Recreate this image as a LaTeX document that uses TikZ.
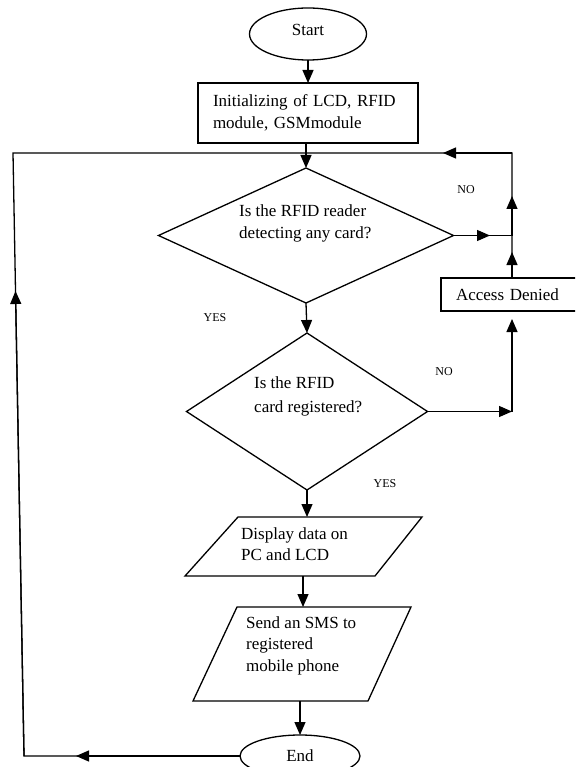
\documentclass[tikz,border=0pt]{standalone}
\usepackage{fontspec}
\setmainfont{Liberation Serif}
\usetikzlibrary{shapes.geometric,arrows.meta}
\begin{document}
\begin{tikzpicture}[x=1pt,y=-1pt,
  ln/.style={line width=1.3pt},
  arr/.style={ln,-{Triangle[length=13pt,width=11pt]}},
  txt/.style={font=\fontsize{17}{21.5}\selectfont},
  lbl/.style={font=\fontsize{12}{14}\selectfont, inner sep=0pt},
  term/.style={draw, ellipse, line width=1.3pt, inner sep=0pt, outer sep=0pt, txt},
  box/.style={draw, rectangle, line width=1.3pt, inner ysep=0pt, inner xsep=15pt, outer sep=0pt, align=left, txt},
  dec/.style={draw, diamond, line width=1.3pt, inner sep=0pt, outer sep=0pt},
  io/.style={draw, line width=1.3pt, line join=miter},
  intext/.style={anchor=west, align=left, inner sep=0pt, txt}
]
\useasboundingbox (0,0) rectangle (575,767);
\clip (0,0) rectangle (575,767);

% nodes
\node[term, minimum width=117pt, minimum height=52pt, text depth=8pt] (start) at (308,34) {Start};
\node[box, text width=190pt, minimum height=60pt] (init) at (308,113) {Initializing of LCD, RFID\\ module, GSMmodule};
\node[dec, minimum width=295pt, minimum height=135pt] (d1) at (306,235.5) {};
\node[intext] (d1t) at (239,223.5) {Is the RFID reader\\ detecting any card?};
\node[dec, minimum width=241pt, minimum height=157pt] (d2) at (307,411.5) {};
\node[intext, font=\fontsize{17}{24.5}\selectfont] (d2t) at (254,396.5) {Is the RFID\\ card registered?};
\node[box, text width=119pt, minimum height=33pt] (deny) at (515.5,294.5) {Access Denied};

% parallelogram 1
\coordinate (p1a) at (238,517);
\coordinate (p1b) at (422,517);
\coordinate (p1c) at (375,576);
\coordinate (p1d) at (185,576);
\draw[io] (p1a) -- (p1b) -- (p1c) -- (p1d) -- cycle;
\node[intext] (p1t) at (241,544) {Display data on\\ PC and LCD};
% parallelogram 2
\coordinate (p2a) at (237,607);
\coordinate (p2b) at (411,607);
\coordinate (p2c) at (368,701);
\coordinate (p2d) at (193,701);
\draw[io] (p2a) -- (p2b) -- (p2c) -- (p2d) -- cycle;
\node[intext] (p2t) at (246,645.5) {Send an SMS to\\ registered\\ mobile phone};

\node[term, minimum width=120pt, minimum height=42pt] (end) at (300,756) {End};

% labels
\node[lbl] (no1) at (466,190) {NO};
\node[lbl] (yes1) at (215,318) {YES};
\node[lbl] (no2) at (444,372) {NO};
\node[lbl] (yes2) at (385,484) {YES};

% connector points
\coordinate (p1top) at (307,517);
\coordinate (p1bot) at (303,576);
\coordinate (p2top) at (303,607);
\coordinate (p2bot) at (300,701);
\coordinate (jR) at (512,235.5);
\coordinate (aM) at (490,235.5);
\coordinate (aR1) at (512,252);
\coordinate (aR2) at (512,196);
\coordinate (cTR) at (512,153);
\coordinate (aT) at (443,153);
\coordinate (cTL) at (13,153);
\coordinate (aL) at (15.5,291);
\coordinate (cBL) at (24,756);
\coordinate (aBL) at (76,756);
\coordinate (cR2) at (512,411.5);
\coordinate (aD) at (512,319);

% main flow
\draw[arr] (start.south) -- (init.north);
\draw[arr] (d1.north |- init.south) -- (d1.north);
\draw[arr] (d1.south) -- (d2.north);
\draw[arr] (d2.south) -- (p1top);
\draw[arr] (p1bot) -- (p2top);
\draw[arr] (p2bot) -- (end.north);

% right side
\draw[ln] (d1.east) -- (jR);
\draw[arr] (d1.east) -- (aM);
\draw[arr] (d2.east) -- (cR2);
\draw[arr] (cR2) -- (aD);
\draw[ln, line join=miter] (jR |- deny.north) -- (cTR) -- (cTL) -- (cBL) -- (end.west);
\draw[arr] (jR |- deny.north) -- (aR1);
\draw[arr] (jR) -- (aR2);
\draw[arr] (cTR) -- (aT);
\draw[arr] (cBL) -- (aL);
\draw[arr] (end.west) -- (aBL);
\end{tikzpicture}
\end{document}
